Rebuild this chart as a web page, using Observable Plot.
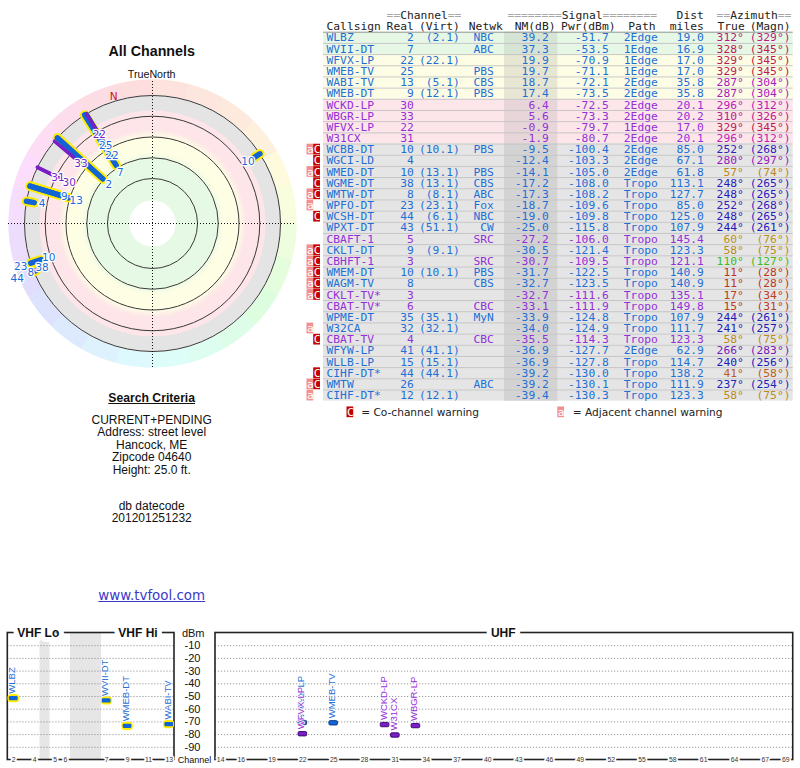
<!DOCTYPE html>
<html><head><meta charset="utf-8">
<script src="https://cdn.jsdelivr.net/npm/d3@7"></script>
<script src="https://cdn.jsdelivr.net/npm/@observablehq/plot@0.6"></script>
<style>
body{margin:0;background:#fff;}
#root{position:relative;width:800px;height:768px;overflow:hidden;font-family:"Liberation Sans",Arial,sans-serif;color:#111;}
.pl{position:absolute;}
.c{position:absolute;left:0;width:303.4px;text-align:center;white-space:nowrap;line-height:1;}
</style></head><body><div id="root"></div>
<script>
// ---------------- DATA ----------------
const callsigns = ["WLBZ","WVII-DT","WFVX-LP","WMEB-TV","WABI-TV","WMEB-DT","WCKD-LP","WBGR-LP","WFVX-LP","W31CX","WCBB-DT","WGCI-LD","WMED-DT","WGME-DT","WMTW-DT","WPFO-DT","WCSH-DT","WPXT-DT","CBAFT-1","CKLT-DT","CBHFT-1","WMEM-DT","WAGM-TV","CKLT-TV*","CBAT-TV*","WPME-DT","W32CA","CBAT-TV","WFYW-LP","WLLB-LP","CIHF-DT*","WMTW","CIHF-DT*"];
const realCh = [2,7,22,25,13,9,30,33,22,31,10,4,10,38,8,23,44,43,5,9,3,10,8,3,6,35,32,4,41,15,44,26,12];
const virtCh = ["2.1","","22.1","","5.1","12.1","","","","","10.1","","13.1","13.1","8.1","23.1","6.1","51.1","","9.1","","10.1","","","","35.1","32.1","","41.1","15.1","44.1","","12.1"];
const network = ["NBC","ABC","","PBS","CBS","PBS","","","","","PBS","","PBS","CBS","ABC","Fox","NBC","CW","SRC","","SRC","PBS","CBS","","CBC","MyN","","CBC","","","","ABC",""];
const nmDb = [39.2,37.3,19.9,19.7,18.7,17.4,6.4,5.6,-0.9,-1.9,-9.5,-12.4,-14.1,-17.2,-17.3,-18.7,-19.0,-25.0,-27.2,-30.5,-30.7,-31.7,-32.7,-32.7,-33.1,-33.9,-34.0,-35.5,-36.9,-36.9,-39.2,-39.2,-39.4];
const pwrDbm = [-51.7,-53.5,-70.9,-71.1,-72.1,-73.5,-72.5,-73.3,-79.7,-80.7,-100.4,-103.3,-105.0,-108.0,-108.2,-109.6,-109.8,-115.8,-106.0,-121.4,-109.5,-122.5,-123.5,-111.6,-111.9,-124.8,-124.9,-114.3,-127.7,-127.8,-130.0,-130.1,-130.3];
const pathType = ["2Edge","1Edge","1Edge","1Edge","2Edge","2Edge","2Edge","2Edge","1Edge","2Edge","2Edge","2Edge","2Edge","Tropo","Tropo","Tropo","Tropo","Tropo","Tropo","Tropo","Tropo","Tropo","Tropo","Tropo","Tropo","Tropo","Tropo","Tropo","2Edge","Tropo","Tropo","Tropo","Tropo"];
const distMiles = [19.0,16.9,17.0,17.0,35.8,35.8,20.1,20.2,17.0,20.1,85.0,67.1,61.8,113.1,127.7,85.0,125.0,107.9,145.4,123.3,121.1,140.9,140.9,135.1,149.8,107.9,111.7,123.3,62.9,114.7,138.2,111.9,123.3];
const azTrue = [312,328,329,329,287,287,296,310,329,296,252,280,57,248,248,252,248,244,60,58,110,11,11,17,15,244,241,58,266,240,41,237,58];
const azMagn = [329,345,345,345,304,304,312,326,345,312,268,297,74,265,265,268,265,261,76,75,127,28,28,34,31,261,257,75,283,256,58,254,75];
const isAnalog = [0,0,0,0,0,0,1,1,1,1,0,0,0,0,0,0,0,0,1,0,1,0,0,1,1,0,0,1,0,0,0,0,0];
const warnings = ["","","","","","","","","","","aC","C","aC","C","aC","a","C","","","aC","aC","aC","aC","aC","","","a","C","","","C","aC","a"];

const headerTopWords = ["Channel","Signal","Azimuth"];
const headerTopPads = ["==","========","=="];
const headerDist = "Dist";
const headerSub = ["Callsign","Real","(Virt)","Netwk","NM(dB)","Pwr(dBm)","Path","miles","True","(Magn)"];
const legendText = ["= Co-channel warning","= Adjacent channel warning"];
const legendKeys = ["C","a"];

const ringLevels = [-20, 0, 20, 40, 60];         // NM dB rings on the polar plot
const dbmTicks = [-10,-20,-30,-40,-50,-60,-70,-80,-90];
const axisChannels = [2,4,5,6,7,9,11,13,14,16,19,22,25,28,31,34,37,40,43,46,49,52,55,58,61,64,67,69];
const bandNames = ["VHF Lo","VHF Hi","UHF"];
const bandRanges = [[54,88],[174,216],[470,806]];   // MHz
const gapBands = [[72,76],[88,174]];                  // MHz, non-TV gaps in VHF panel

// ---------------- HELPERS ----------------
const rows = callsigns.map((call, i) => ({i, call, real: realCh[i], virt: virtCh[i], net: network[i], nm: nmDb[i],
  pwr: pwrDbm[i], path: pathType[i], dist: distMiles[i], az: azTrue[i], magn: azMagn[i], analog: isAnalog[i] === 1, warn: warnings[i]}));

const BLUE_TXT = "#1f6fd5", PURPLE_TXT = "#9430d8";
const BLUE = "#1163d6", PURPLE = "#7a1ec8", YELLOW = "#ffec00";
const typeColor = d => d.analog ? PURPLE_TXT : BLUE_TXT;
const hueOf = d3.scaleLinear([0,41,58,110,180,240,252,266,287,312,329,360],[5,25,42,105,180,238,250,275,293,322,340,365]);
const azColor = az => d3.hsl(hueOf(az) % 360, 0.75, 0.42).formatHex();
const wheelColor = a => d3.hsl(hueOf(Math.floor(a / 15) * 15 + 7.5) % 360, 0.9, 0.93).formatHex();
const bandOf = nm => nm >= 30 ? 0 : nm >= 10 ? 1 : nm >= -5 ? 2 : 3;
const rowFill = ["#e6f7e6","#fdfde5","#fde6ea","#e5e5e5"];
const nmFill  = ["#d5e4d5","#e6e6d2","#e8d5d9","#d3d3d3"];

const root = document.getElementById("root");
function place(node, left, top) { node.classList.add("pl"); node.style.left = left + "px"; node.style.top = top + "px"; root.appendChild(node); }
function label(text, cy, size, extra = "") {
  const d = document.createElement("div"); d.className = "c"; d.textContent = text;
  d.style.cssText += `top:${cy - size * 0.5}px;font-size:${size}px;${extra}`; root.appendChild(d); return d;
}

// ---------------- POLAR PLOT ----------------
const deg = Math.PI / 180;
const rad = d3.scaleLinear([-20, 60], [128, 45]);
const px = (r, az) => r * Math.sin(az * deg);
const py = (r, az) => r * Math.cos(az * deg);
const rEnd = rad(-20);
const polarRows = rows.filter(d => d.nm >= -20);
const isVHF = d => d.real <= 13;
const placed = [];
[...polarRows].sort((a, b) => b.nm - a.nm).forEach(d => {
  let r = rad(d.nm) - 8;
  for (let k = 0; k < 60; k++) {
    const x = px(r, d.az), y = py(r, d.az);
    if (placed.every(p => Math.hypot(p.lx - x, p.ly - y) >= 12)) break;
    r += 1;
  }
  placed.push({...d, lx: px(r, d.az), ly: py(r, d.az)});
});
const wheelAz = d3.range(0, 360, 0.5);
const grey = "#e4e4e4", pink = "#fde5e9", yellow = "#fefee4", green = "#e6f9e4";
const bandDiscs = [{nm: -20, color: grey}, {nm: -5.5, color: pink}]
  .concat(d3.range(0, 9).map(k => ({nm: 12 + k, color: d3.interpolateRgb(pink, yellow)(k / 8)})))
  .concat(d3.range(0, 9).map(k => ({nm: 34 + k, color: d3.interpolateRgb(yellow, green)(k / 8)})))
  .concat([{nm: 81, color: "#ffffff"}]);
const decl = azMagn[0] - azTrue[0];
const link = (opts) => ({x1: d => px(rad(d.nm), d.az), y1: d => py(rad(d.nm), d.az), x2: d => px(rEnd, d.az), y2: d => py(rEnd, d.az), strokeLinecap: "round", ...opts});

const polar = Plot.plot({
  width: 300, height: 300, margin: 0,
  x: {domain: [-150, 150], range: [0, 300], axis: null},
  y: {domain: [-150, 150], range: [300, 0], axis: null},
  r: {type: "linear", domain: [0, 150], range: [0, 150]},
  style: {background: "transparent", overflow: "visible"},
  marks: [
    Plot.link(wheelAz, {x1: a => px(128.5, a), y1: a => py(128.5, a), x2: a => px(144, a), y2: a => py(144, a), stroke: wheelColor, strokeWidth: 1.9}),
    Plot.dot(bandDiscs, {x: () => 0, y: () => 0, r: d => rad(d.nm), fill: d => d.color, stroke: "none", sort: null}),
    Plot.dot(ringLevels, {x: () => 0, y: () => 0, r: d => rad(d), fill: "none", stroke: "#3a3a3a", strokeWidth: 1, sort: null}),
    Plot.ruleX([0], {x: d => d, y1: () => -144, y2: () => 144, stroke: "#111", strokeDasharray: "1,2"}),
    Plot.ruleY([0], {y: d => d, x1: () => -144, x2: () => 144, stroke: "#111", strokeDasharray: "1,2"}),
    Plot.link(polarRows.filter(d => !d.analog && isVHF(d)), link({stroke: YELLOW, strokeWidth: 9.5})),
    Plot.link(polarRows.filter(d => !d.analog), link({stroke: BLUE, strokeWidth: d => isVHF(d) ? 5.5 : 4})),
    Plot.link(polarRows.filter(d => d.analog), link({stroke: PURPLE, strokeWidth: 3.5})),
    Plot.text(placed, {x: "lx", y: "ly", text: d => String(d.real), fill: d => d.analog ? PURPLE : "#1a6ad8",
      stroke: "white", strokeWidth: 2.5, fontSize: 10.5, fontFamily: "DejaVu Sans"}),
    Plot.text([decl], {x: d => px(133, -d), y: d => py(133, -d), text: () => "N", fill: "#cc1111", fontSize: 10.5, fontFamily: "DejaVu Sans"})
  ]
});
place(polar, 1.7, 73.3);

label("All Channels", 50.7, 14.3, "font-weight:bold;");
label("TrueNorth", 74, 10.7);
label("Search Criteria", 397.7, 12.2, "font-weight:bold;text-decoration:underline;");
const criteria = ["CURRENT+PENDING","Address: street level","Hancock, ME","Zipcode 04640","Height: 25.0 ft."];
const critY = [420, 432.4, 444.8, 457.2, 469.6];
criteria.forEach((t, k) => label(t, critY[k], 12));
label("db datecode", 506, 12);
label("201201251232", 518.4, 12);
{
  const a = document.createElement("div"); a.className = "c";
  a.style.cssText += "top:588.9px;font-size:13.4px;font-family:'DejaVu Sans';color:#3a3ac8;";
  a.innerHTML = '<span style="text-decoration:underline">www.tvfool.com</span>';
  root.appendChild(a);
}

// ---------------- TABLE ----------------
const ROW0 = 37.3, PITCH = 11.18, TH = 425, CW = 6.8;
const mono = {fontFamily: "DejaVu Sans Mono", fontSize: 11.3};
const X0 = 323, X1 = 792.7;
const cols = [
  {x: 326, anchor: "start", v: d => d.call, fill: typeColor},
  {x: 413.3, anchor: "end", v: d => String(d.real), fill: typeColor},
  {x: 459.3, anchor: "end", v: d => d.virt ? `(${d.virt})` : "", fill: typeColor},
  {x: 493.3, anchor: "end", v: d => d.net, fill: typeColor},
  {x: 548.3, anchor: "end", v: d => d.nm.toFixed(1), fill: typeColor},
  {x: 608.3, anchor: "end", v: d => d.pwr.toFixed(1), fill: typeColor},
  {x: 623.3, anchor: "start", v: d => d.path, fill: typeColor},
  {x: 703.3, anchor: "end", v: d => d.dist.toFixed(1), fill: typeColor},
  {x: 743.3, anchor: "end", v: d => d.az + "°", fill: d => azColor(d.az)},
  {x: 790, anchor: "end", v: d => `(${d.magn}°)`, fill: d => azColor(d.az)}
];
const headTopX = [423.5, 581.7, 753.5];
const headSubLayout = [{x: 326, a: "start"}, {x: 413.3, a: "end"}, {x: 459.3, a: "end"}, {x: 468.3, a: "start"}, {x: 555, a: "end"},
  {x: 615, a: "end"}, {x: 655, a: "end"}, {x: 703.3, a: "end"}, {x: 717, a: "start"}, {x: 790, a: "end"}];
const aRows = rows.filter(d => d.warn.includes("a"));
const cRows = rows.filter(d => d.warn.includes("C"));
const LEG = 33.5;
const half = k => headerTopWords[k].length * CW / 2;

const tableMarks = [
  Plot.rect(rows, {x1: () => X0, x2: () => X1, y1: d => d.i - 0.5, y2: d => d.i + 0.5, fill: d => rowFill[bandOf(d.nm)]}),
  Plot.rect(rows, {x1: () => 504, x2: () => 557.3, y1: d => d.i - 0.5, y2: d => d.i + 0.5, fill: d => nmFill[bandOf(d.nm)]}),
  Plot.ruleY(rows.slice(0, -1), {y: d => d.i + 0.5, x1: () => X0, x2: () => X1, stroke: "#c2c2c2", strokeWidth: 0.9}),
  Plot.ruleY([-0.5], {y: d => d, x1: () => X0, x2: () => X1, stroke: "#8a8a8a", strokeWidth: 0.9}),
  Plot.rect(aRows, {x1: () => 306.5, x2: () => 313.2, y1: d => d.i - 0.48, y2: d => d.i + 0.48, fill: "#f28f8f"}),
  Plot.rect(cRows, {x1: () => 313.2, x2: () => 320, y1: d => d.i - 0.48, y2: d => d.i + 0.48, fill: "#c40000"}),
  Plot.text(aRows, {x: () => 309.85, y: "i", text: () => "a", fill: "white", ...mono}),
  Plot.text(cRows, {x: () => 316.6, y: "i", text: () => "C", fill: "white", ...mono}),
  ...cols.map(c => Plot.text(rows, {x: () => c.x, y: "i", text: c.v, fill: c.fill, textAnchor: c.anchor, ...mono})),
  Plot.text(headerTopWords, {x: (d, k) => headTopX[k], y: () => -2, text: d => d, textAnchor: "middle", fill: "#222", ...mono}),
  Plot.text(headerTopPads, {x: (d, k) => headTopX[k] - half(k), y: () => -2, text: d => d, textAnchor: "end", fill: "#a8a8a8", ...mono}),
  Plot.text(headerTopPads, {x: (d, k) => headTopX[k] + half(k), y: () => -2, text: d => d, textAnchor: "start", fill: "#a8a8a8", ...mono}),
  Plot.text([headerDist], {x: () => 703.3, y: () => -2, text: d => d, textAnchor: "end", fill: "#222", ...mono}),
  ...headerSub.map((t, k) => Plot.text([t], {x: () => headSubLayout[k].x, y: () => -1, text: d => d, textAnchor: headSubLayout[k].a, fill: "#222", ...mono})),
  Plot.rect(legendKeys, {x1: (d, k) => [346.5, 557.3][k], x2: (d, k) => [353.2, 564][k], y1: () => LEG - 0.48, y2: () => LEG + 0.48, fill: (d, k) => ["#c40000", "#f28f8f"][k]}),
  Plot.text(legendKeys, {x: (d, k) => [349.85, 560.65][k], y: () => LEG, text: d => d, fill: "white", ...mono}),
  Plot.text(legendText, {x: (d, k) => [360.7, 572.3][k], y: () => LEG, text: d => d, textAnchor: "start", fill: "#222", fontFamily: "DejaVu Sans", fontSize: 10.6})
];
const table = Plot.plot({
  width: 500, height: TH, margin: 0,
  x: {domain: [300, 800], range: [0, 500], axis: null},
  y: {domain: [-ROW0 / PITCH, (TH - ROW0) / PITCH], range: [0, TH], axis: null},
  style: {background: "transparent", overflow: "visible"},
  marks: tableMarks
});
place(table, 300, 0);

// ---------------- SPECTRUM ----------------
const chLower = ch => ch <= 4 ? 54 + 6 * (ch - 2) : ch <= 6 ? 76 + 6 * (ch - 5) : ch <= 13 ? 174 + 6 * (ch - 7) : 470 + 6 * (ch - 14);
const chCenter = ch => chLower(ch) + 3;
const specRows = rows.filter(d => d.nm >= -5);
const frames = [[53.6, 216], [470, 807.3]];
const bandMid = bandRanges.map(r => (r[0] + r[1]) / 2);
const spectrum = Plot.plot({
  width: 800, height: 148, margin: 0,
  x: {type: "linear", domain: [54, 72, 76, 88, 174, 216, 470, 806], range: [8, 39.5, 49.5, 70, 101, 174, 215, 790.5], axis: null},
  y: {domain: [-100, 0], range: [139.5, 12.5], axis: null},
  style: {background: "transparent", overflow: "visible", fontFamily: "Liberation Sans, Arial, sans-serif"},
  marks: [
    Plot.rect(gapBands, {x1: d => d[0], x2: d => d[1], y1: () => -100, y2: () => 0, fill: "#e6e6e6"}),
    Plot.ruleY(dbmTicks, {y: d => d, x1: () => frames[0][0], x2: () => frames[0][1], stroke: "#808080", strokeWidth: 0.8, strokeDasharray: "1.2,1.8"}),
    Plot.ruleY(dbmTicks, {y: d => d, x1: () => frames[1][0], x2: () => frames[1][1], stroke: "#808080", strokeWidth: 0.8, strokeDasharray: "1.2,1.8"}),
    Plot.rect(frames, {x1: d => d[0], x2: d => d[1], y1: () => -100, y2: () => 0, fill: "none", stroke: "#222", strokeWidth: 1.6}),
    Plot.text(bandNames, {x: (d, k) => bandMid[k], y: () => 0, text: d => d, fontWeight: "bold", fontSize: 12, fill: "#111", stroke: "white", strokeWidth: 10}),
    Plot.text(axisChannels, {x: chCenter, y: () => -100, text: d => String(d), fontSize: 6.8, fill: "#333", stroke: "white", strokeWidth: 3.5}),
    Plot.text(dbmTicks, {x: () => 377, y: d => d, text: d => String(d), textAnchor: "end", fontSize: 11, fill: "#111"}),
    Plot.text(["dBm"], {x: () => 402, y: () => 0, text: d => d, textAnchor: "end", fontSize: 11, fill: "#111"}),
    Plot.text(["Channel"], {x: () => 340, y: () => -100, text: d => d, fontSize: 9, fill: "#111", stroke: "white", strokeWidth: 3}),
    Plot.rect(specRows.filter(isVHF), {x1: d => chLower(d.real) - 0.3, x2: d => chLower(d.real) + 6.3, y1: d => d.pwr - 3.2, y2: d => d.pwr + 3.2, rx: 3.5, fill: YELLOW}),
    Plot.rect(specRows, {x1: d => chLower(d.real) + 0.5, x2: d => chLower(d.real) + 5.5, y1: d => d.pwr - 1.7, y2: d => d.pwr + 1.7, rx: 1.2,
      fill: d => d.analog ? PURPLE : BLUE, stroke: d => isVHF(d) ? "none" : (d.analog ? "#3d0a70" : "#0b3d8c"), strokeWidth: 1}),
    Plot.text(specRows, {x: d => chCenter(d.real), y: d => d.pwr, text: d => d.call, rotate: -90, textAnchor: "start", dy: -5, dx: -1.5,
      fontSize: 9.5, fill: d => d.analog ? PURPLE_TXT : BLUE_TXT, stroke: "white", strokeWidth: 1.5})
  ]
});
place(spectrum, 0, 620);
</script></body></html>
